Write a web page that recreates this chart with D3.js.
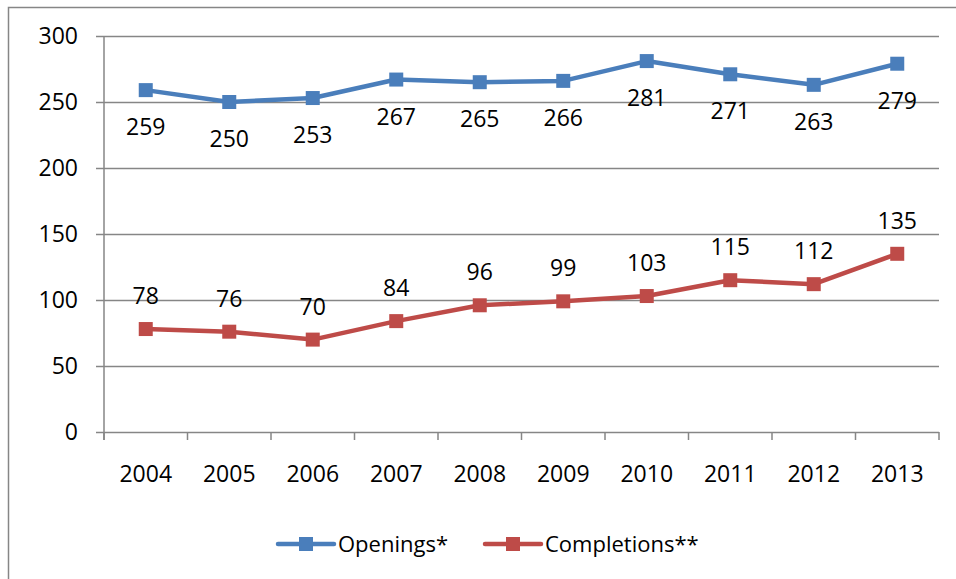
<!DOCTYPE html>
<html lang="en">
  <head>
    <meta charset="UTF-8" />
    <title>Openings and Completions</title>
    <style>
      body { margin: 0; background: #fff; }
      text { font-family: "Open Sans", sans-serif; fill: #000; }
    </style>
  </head>
  <body>
    <div id="wrapper"></div>
    <script src="https://d3js.org/d3.v7.min.js"></script>
    <script>
      // data
      const years = ["2004", "2005", "2006", "2007", "2008", "2009", "2010", "2011", "2012", "2013"];
      const openings = [259, 250, 253, 267, 265, 266, 281, 271, 263, 279];
      const completions = [78, 76, 70, 84, 96, 99, 103, 115, 112, 135];
      const yTicks = [0, 50, 100, 150, 200, 250, 300];

      const series = [
        {name: "Openings*", values: openings, color: "#4a7ebb", labelDy: 37},
        {name: "Completions**", values: completions, color: "#be4b48", labelDy: -33}
      ];

      const W = 956, H = 579;
      const plot = {left: 104, right: 939, top: 36, bottom: 432};
      const axisColor = "#868686";
      const numSize = "23px";

      const svg = d3.select("#wrapper").append("svg")
        .attr("width", W).attr("height", H);

      // chart frame (runs off the right and bottom edges)
      svg.append("rect")
        .attr("x", 8.5).attr("y", 7.5)
        .attr("width", 1000).attr("height", 1000)
        .attr("fill", "none").attr("stroke", axisColor).attr("stroke-width", 1.5);

      const x = d3.scaleBand().domain(years).range([plot.left, plot.right]);
      const y = d3.scaleLinear().domain([0, 300]).range([plot.bottom, plot.top]);

      // gridlines + y labels
      const yAxis = svg.append("g")
        .attr("transform", `translate(${plot.left},0)`)
        .call(d3.axisLeft(y).tickValues(yTicks).tickSize(-(plot.right - plot.left)).tickPadding(26));
      yAxis.select(".domain").remove();
      yAxis.selectAll(".tick line")
        .attr("x1", -8)
        .attr("stroke", axisColor).attr("stroke-width", 1.5);
      yAxis.selectAll(".tick text")
        .style("font-size", numSize).attr("fill", "#000");

      // vertical axis line
      svg.append("line")
        .attr("x1", plot.left).attr("x2", plot.left)
        .attr("y1", plot.top).attr("y2", plot.bottom + 8)
        .attr("stroke", axisColor).attr("stroke-width", 1.5);

      // category tick marks at band boundaries
      const bounds = years.map(d => x(d)).concat([plot.right]);
      svg.selectAll(".xtick").data(bounds).join("line")
        .attr("x1", d => d).attr("x2", d => d)
        .attr("y1", plot.bottom).attr("y2", plot.bottom + 8)
        .attr("stroke", axisColor).attr("stroke-width", 1.5);

      svg.selectAll(".xlabel").data(years).join("text")
        .attr("x", d => x(d) + x.bandwidth() / 2)
        .attr("y", 474)
        .attr("dy", "0.35em")
        .attr("text-anchor", "middle")
        .style("font-size", numSize)
        .text(d => d);

      const cx = (d, i) => x(years[i]) + x.bandwidth() / 2;
      const line = d3.line().x((d, i) => cx(d, i)).y(d => y(d));

      series.forEach(s => {
        const g = svg.append("g");
        g.append("path")
          .datum(s.values)
          .attr("fill", "none")
          .attr("stroke", s.color)
          .attr("stroke-width", 4.5)
          .attr("stroke-linejoin", "round")
          .attr("d", line);
        g.selectAll("rect").data(s.values).join("rect")
          .attr("x", (d, i) => cx(d, i) - 7)
          .attr("y", d => y(d) - 7)
          .attr("width", 14).attr("height", 14)
          .attr("fill", s.color);
        g.selectAll("text").data(s.values).join("text")
          .attr("x", (d, i) => cx(d, i))
          .attr("y", d => y(d) + s.labelDy)
          .attr("dy", "0.35em")
          .attr("text-anchor", "middle")
          .style("font-size", numSize)
          .text(d => d);
      });

      // legend
      const legendItems = [
        {s: series[0], x0: 278, tx: 338},
        {s: series[1], x0: 485, tx: 545}
      ];
      const ly = 544;
      legendItems.forEach(it => {
        svg.append("line")
          .attr("x1", it.x0).attr("x2", it.x0 + 56)
          .attr("y1", ly).attr("y2", ly)
          .attr("stroke", it.s.color).attr("stroke-width", 4.5)
          .attr("stroke-linecap", "round");
        svg.append("rect")
          .attr("x", it.x0 + 21).attr("y", ly - 7)
          .attr("width", 14).attr("height", 14)
          .attr("fill", it.s.color);
        svg.append("text")
          .attr("x", it.tx).attr("y", ly)
          .attr("dy", "0.35em")
          .style("font-size", "22px")
          .text(it.s.name);
      });
    </script>
  </body>
</html>
